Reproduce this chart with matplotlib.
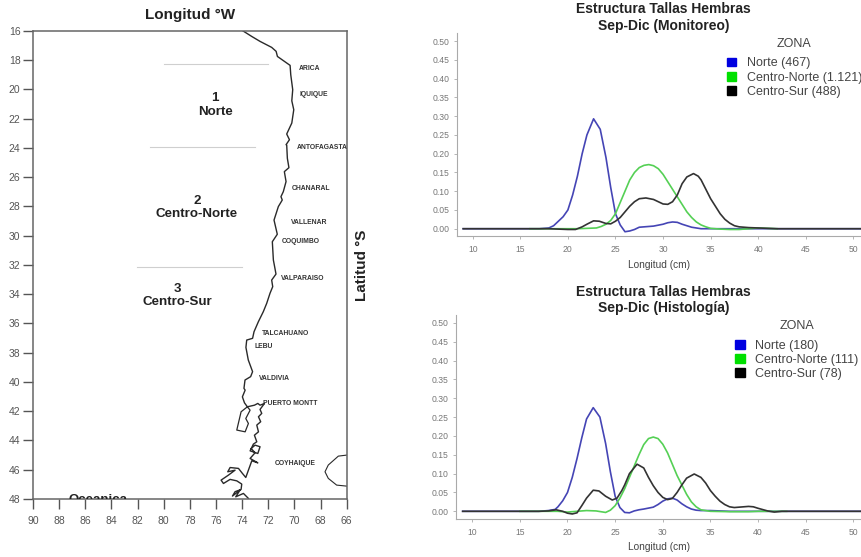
import matplotlib
matplotlib.use("Agg")
import matplotlib.pyplot as plt
from matplotlib.patches import Patch

plt.rcParams["font.family"] = ["Liberation Sans", "DejaVu Sans"]

W, H = 861, 557

# Map data (lon W, lat S)
coast_lon = [73.96, 73.27, 72.63, 71.74, 71.4, 71.3, 70.33, 70.28, 70.13, 70.2, 70.05, 70.2, 70.59, 70.38, 70.64,
             70.59, 70.54, 70.42, 70.77, 70.64, 70.85, 71.03, 70.93, 71.23, 71.56, 71.31, 71.69, 71.61,
             71.49, 71.41, 71.74, 71.66, 71.87, 72.12, 72.38, 72.76, 73.09, 73.2, 73.65, 73.71, 73.53, 73.2,
             73.35, 73.78, 73.86,
             73.77, 73.98, 73.82, 73.6, 73.06, 72.8, 72.63, 72.29, 72.63, 72.5, 72.75, 72.58, 72.88, 72.75,
             73.06, 72.88, 73.14, 73.39, 72.8, 72.63, 73.01, 73.31, 73.01, 73.39, 72.8, 73.26, 73.52, 73.72,
             73.98, 74.28, 74.92, 75.1, 74.54, 75.05, 75.61, 75.43, 74.92, 74.41, 74.03, 74.08, 74.54, 74.74,
             74.16, 74.49, 73.9, 73.52]
coast_lat = [16.0, 16.39, 16.73, 17.14, 17.41, 17.76, 18.37, 19.01, 20.03, 20.79, 21.4, 22.31, 23.06, 23.45, 23.79,
             23.81, 24.72, 25.36, 25.63, 26.31, 27.0, 27.34, 27.57, 28.02, 28.94, 29.91, 30.42, 31.67,
             32.24, 32.63, 33.04, 33.49, 33.95, 34.63, 35.2, 35.89, 36.57, 37.02, 37.14, 37.64, 38.5, 39.3,
             39.64, 39.87, 40.44,
             40.56, 41.02, 41.43, 41.70, 41.59, 41.47, 41.59, 41.47, 41.88, 42.15, 42.38, 42.72, 42.95, 43.41,
             43.64, 44.09, 44.25, 44.71, 44.89, 44.43, 44.32, 44.55, 44.84, 45.23, 45.53, 45.39, 46.03, 46.53,
             46.25, 45.91, 45.85, 46.14, 46.03, 46.37, 46.71, 46.94, 46.66, 46.76, 46.98, 47.35, 47.5, 47.8,
             47.39, 47.85, 47.62, 47.96]
island_lon = [73.6, 74.08, 74.41, 73.77, 73.52, 73.72, 73.39, 73.6]
island_lat = [41.70, 42.04, 43.29, 43.41, 42.84, 42.5, 41.93, 41.70]
lake_lon = [66.0, 66.64, 67.41, 67.66, 67.41, 66.77, 66.0]
lake_lat = [45.0, 45.07, 45.68, 46.14, 46.59, 47.05, 47.12]

cities = ["ARICA", "IQUIQUE", "ANTOFAGASTA", "CHANARAL", "VALLENAR", "COQUIMBO", "VALPARAISO",
          "TALCAHUANO", "LEBU", "VALDIVIA", "PUERTO MONTT", "COYHAIQUE"]
city_lon = [69.7, 69.6, 69.8, 70.2, 70.25, 70.95, 71.0, 72.5, 73.08, 72.68, 72.38, 71.5]
city_lat = [18.6, 20.35, 23.98, 26.8, 29.12, 30.42, 32.95, 36.66, 37.6, 39.8, 41.5, 45.6]

# Zones
zone_labels = ["1\nNorte", "2\nCentro-Norte", "3\nCentro-Sur"]
zone_lon = [76.07, 77.45, 78.98]
zone_lat = [21.08, 28.08, 34.1]
sep_lat = [18.3, 23.95, 32.13]
sep_lon_a = [80.0, 81.06, 82.03]
sep_lon_b = [72.05, 73.02, 73.99]

# Length structure, monitoring
mon_norte_x = [9, 17, 18, 18.5, 19, 19.5, 20, 20.5, 21, 21.5, 22, 22.7, 23.4, 24, 24.5, 25, 25.5, 26, 26.5, 27,
               27.5, 28, 29, 30, 30.5, 31, 31.5, 32, 33, 34, 35, 51]
mon_norte_y = [0, 0, .002, .008, .02, .032, .05, .09, .14, .20, .25, .293, .265, .19, .11, .04, .01, -.008, -.006,
               -.002, .004, .005, .007, .012, .016, .018, .017, .012, .004, 0, 0, 0]
mon_cn_x = [16, 21, 22, 23, 23.5, 24, 24.5, 25, 25.5, 26, 26.5, 27, 27.5, 28, 28.5, 29, 29.5, 30, 30.5, 31, 31.5,
            32, 32.5, 33, 33.5, 34, 34.5, 35, 36, 37, 38, 39, 40, 41, 42]
mon_cn_y = [0, 0, .001, .002, .006, .012, .022, .04, .07, .10, .13, .15, .163, .169, .171, .168, .16, .145, .125,
            .105, .085, .065, .045, .03, .018, .01, .005, .001, -.001, -.002, -.002, 0, .002, .001, 0]
mon_cs_x = [9, 18, 19, 20, 20.8, 21.5, 22, 22.7, 23.3, 24, 24.5, 25, 25.5, 26, 26.5, 27, 27.5, 28.2, 29, 29.5, 30,
            30.5, 31, 31.5, 32, 32.5, 33.2, 33.7, 34, 34.5, 35, 35.5, 36, 36.5, 37, 37.5, 38, 39, 40, 41, 42, 51]
mon_cs_y = [0, 0, -.001, -.002, -.002, .005, .012, .021, .02, .014, .013, .02, .03, .045, .06, .072, .08, .082,
            .078, .072, .066, .065, .072, .09, .12, .138, .147, .14, .13, .105, .08, .06, .04, .025, .015, .008,
            .005, .003, .002, .001, 0, 0]

# Length structure, histology
his_norte_x = [9, 17, 18, 18.7, 19, 19.5, 20, 20.5, 21, 21.5, 22, 22.7, 23.4, 24, 24.5, 25, 25.5, 26, 26.5, 27,
               27.5, 28, 29, 29.5, 30, 30.5, 31, 31.5, 32, 32.5, 33, 33.5, 34, 35, 36, 37, 51]
his_norte_y = [0, 0, .002, .005, .012, .028, .05, .09, .14, .195, .245, .275, .25, .18, .105, .04, .01, -.003,
               -.004, .001, .004, .006, .011, .018, .027, .033, .035, .03, .02, .012, .006, .003, .002, .002,
               .001, 0, 0]
his_cn_x = [15, 19, 20, 21, 22, 23, 24, 24.5, 25, 25.5, 26, 26.5, 27, 27.5, 28, 28.5, 29, 29.5, 30, 30.5, 31, 31.5,
            32, 32.5, 33, 33.5, 34, 35, 37, 39, 40, 43]
his_cn_y = [0, 0, -.002, 0, .002, .001, -.003, .003, .015, .035, .06, .09, .12, .15, .177, .193, .197, .193, .178,
            .155, .125, .095, .07, .045, .025, .012, .004, 0, -.001, -.001, 0, 0]
his_cs_x = [9, 17, 18, 18.8, 19.5, 20, 20.5, 21, 21.5, 22, 22.7, 23.3, 24, 24.7, 25.2, 25.7, 26, 26.5, 27.3, 28,
            28.5, 29, 29.5, 30, 30.5, 31, 31.5, 32, 32.5, 33.3, 34, 34.5, 35, 35.5, 36, 36.5, 37, 37.5, 38, 39,
            39.5, 40, 41, 41.7, 42.5, 51]
his_cs_y = [0, 0, .001, .004, 0, -.005, -.007, -.004, .015, .035, .056, .054, .04, .03, .035, .055, .07, .1, .125,
            .115, .09, .068, .05, .037, .031, .034, .05, .07, .088, .099, .09, .075, .055, .04, .027, .018, .012,
            .01, .011, .013, .012, .008, .001, -.002, 0, 0]

mon_legend = ["Norte (467)", "Centro-Norte (1.121)", "Centro-Sur (488)"]
his_legend = ["Norte (180)", "Centro-Norte (111)", "Centro-Sur (78)"]
x_ticks = [10, 15, 20, 25, 30, 35, 40, 45, 50]
y_ticks = [0.0, 0.05, 0.10, 0.15, 0.20, 0.25, 0.30, 0.35, 0.40, 0.45, 0.50]


def px_axes(fig, left, top, right, bottom):
    return fig.add_axes([left / W, 1 - bottom / H, (right - left) / W, (bottom - top) / H])


fig = plt.figure(figsize=(W / 100, H / 100), dpi=100)

# Map panel
ax = px_axes(fig, 33, 30.7, 346.7, 499)
ax.set_xlim(90, 66)
ax.set_ylim(48, 16)
ax.plot(coast_lon, coast_lat, color="#2a2a2a", lw=1.0)
ax.plot(island_lon, island_lat, color="#2a2a2a", lw=0.9)
ax.plot(lake_lon, lake_lat, color="#2a2a2a", lw=0.8)
for a, b, lat in zip(sep_lon_a, sep_lon_b, sep_lat):
    ax.plot([a, b], [lat, lat], color="#cfcfcf", lw=0.8)
for name, lon, lat in zip(cities, city_lon, city_lat):
    ax.text(lon, lat, name, fontsize=4.9, fontweight="bold", color="#333333", ha="left", va="center")
for name, lon, lat in zip(zone_labels, zone_lon, zone_lat):
    ax.text(lon, lat, name, fontsize=9.6, fontweight="bold", color="#222222", ha="center", va="center",
            linespacing=1.15)
ax.text(85, 48.05, "Oceanica", fontsize=9.5, fontweight="bold", color="#222222", ha="center", va="center",
        clip_on=True)
ax.set_xticks(range(90, 65, -2))
ax.set_yticks(range(16, 49, 2))
ax.tick_params(length=7, width=1, color="#555555", labelcolor="#555555", labelsize=7.5)
ax.tick_params(axis="x", pad=5)
ax.tick_params(axis="y", pad=2)
for s in ax.spines.values():
    s.set_color("#666666")
    s.set_linewidth(1.1)
fig.text(190 / W, 1 - 15 / H, "Longitud °W", fontsize=11, fontweight="bold", color="#222222", ha="center",
         va="center")
fig.text(362 / W, 1 - 265 / H, "Latitud °S", fontsize=11, fontweight="bold", color="#222222", ha="center",
         va="center", rotation=90)


def length_panel(box, xlim, ylim, title, title_y, curves, legend_labels, legend_x, legend_y):
    ax = px_axes(fig, *box)
    ax.set_xlim(*xlim)
    ax.set_ylim(*ylim)
    for x, y, col in curves:
        ax.plot(x, y, color=col, lw=1.2)
    ax.set_xticks(x_ticks)
    ax.set_yticks(y_ticks)
    ax.set_yticklabels([f"{v:.2f}" for v in y_ticks])
    ax.tick_params(length=2.5, width=0.6, color="#aaaaaa", labelcolor="#777777", labelsize=6.2)
    ax.tick_params(axis="x", pad=4)
    ax.tick_params(axis="y", pad=3)
    ax.spines["top"].set_visible(False)
    ax.spines["right"].set_visible(False)
    ax.spines["left"].set_color("#aaaaaa")
    ax.spines["bottom"].set_color("#aaaaaa")
    ax.set_xlabel("Longitud (cm)", fontsize=7.3, color="#444444", labelpad=4)
    fig.text(663.5 / W, 1 - title_y / H, title, fontsize=10, fontweight="bold", color="#222222", ha="center",
             va="center", linespacing=1.25)
    handles = [Patch(color="#0000e0"), Patch(color="#00e000"), Patch(color="#000000")]
    leg = ax.legend(handles, legend_labels, title="ZONA", loc="upper left", frameon=False, fontsize=9,
                    title_fontsize=9, handlelength=0.75, handleheight=0.7, handletextpad=0.85, labelspacing=0.17,
                    borderpad=0, borderaxespad=0, bbox_to_anchor=(legend_x, legend_y))
    leg._legend_box.sep = 5.5
    for t in leg.get_texts():
        t.set_color("#444444")
    leg.get_title().set_color("#444444")


length_panel((457.3, 32.7, 861, 236), (8.38, 50.8), (-0.0194, 0.5226),
             "Estructura Tallas Hembras\nSep-Dic (Monitoreo)", 17.5,
             [(mon_norte_x, mon_norte_y, "#4545b5"), (mon_cn_x, mon_cn_y, "#55d055"),
              (mon_cs_x, mon_cs_y, "#333333")], mon_legend, 0.667, 0.975)
length_panel((456, 315, 861, 518.7), (8.3, 50.8), (-0.0196, 0.5208),
             "Estructura Tallas Hembras\nSep-Dic (Histología)", 300,
             [(his_norte_x, his_norte_y, "#4545b5"), (his_cn_x, his_cn_y, "#55d055"),
              (his_cs_x, his_cs_y, "#333333")], his_legend, 0.69, 0.975)

fig.savefig("out.png", dpi=100)
